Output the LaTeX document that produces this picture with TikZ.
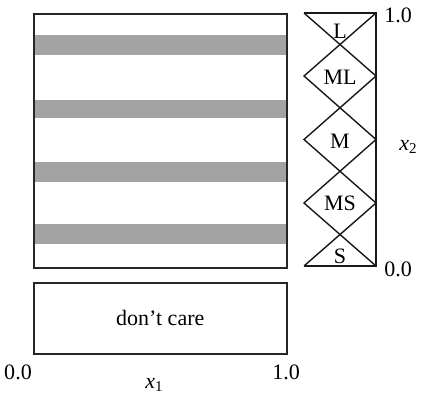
\documentclass[tikz,border=0pt]{standalone}
\usepackage{fontspec}
\setmainfont{Liberation Serif}
\newcommand{\varsub}[1]{\textit{x}\raisebox{-0.35ex}{\fontsize{15}{15}\selectfont #1}}
\begin{document}
\begin{tikzpicture}[x=1pt,y=-1pt,
  frame/.style={draw=black!85,line width=1.6pt},
  stripe/.style={fill=black!36,draw=none},
  mf/.style={draw=black!90,line width=1.4pt},
  lbl/.style={font=\fontsize{22}{25}\selectfont,inner sep=0pt},
  tick/.style={font=\fontsize{22}{25}\selectfont,inner sep=0pt}]
\useasboundingbox (0,0) rectangle (427,396);
% main box with stripes
\fill[stripe] (34,35) rectangle (286,55);
\fill[stripe] (34,100) rectangle (286,118);
\fill[stripe] (34,162) rectangle (286,182);
\fill[stripe] (34,224) rectangle (286,244);
\node[frame,minimum width=253pt,minimum height=254pt,inner sep=0pt,anchor=north west] (box) at (33,13) {};
% don't care box
\node[frame,minimum width=253pt,minimum height=71pt,inner sep=0pt,anchor=north west,lbl] (dc) at (33,282) {};
\node[lbl] (dctext) at (dc.center) {don't care};
% x1 axis labels
\node[tick] (x0) at (18,372) {0.0};
\node[tick] (x1) at (286,372) {1.0};
\node[lbl] (xl) at (154,385) {\varsub{1}};
% membership functions
\coordinate (tl) at (304,13);
\coordinate (tr) at (376,13);
\coordinate (bl) at (304,266);
\coordinate (br) at (376,266);
\coordinate (r1) at (376,76);
\coordinate (r2) at (376,139.5);
\coordinate (r3) at (376,203);
\coordinate (l1) at (304,76);
\coordinate (l2) at (304,139.5);
\coordinate (l3) at (304,203);
\draw[mf] (tl) -- (tr) -- (br) -- (bl);
\draw[mf] (tl) -- (r1) -- (l2) -- (r3) -- (bl);
\draw[mf] (tr) -- (l1) -- (r2) -- (l3) -- (br);
\node[lbl] (L) at (340,31) {L};
\node[lbl] (ML) at (340,77) {ML};
\node[lbl] (M) at (340,141) {M};
\node[lbl] (MS) at (340,203) {MS};
\node[lbl] (S) at (340,256) {S};
\node[tick] (y1) at (398,15) {1.0};
\node[tick] (y0) at (398,269) {0.0};
\node[lbl] (yl) at (408,147) {\varsub{2}};
\end{tikzpicture}
\end{document}
